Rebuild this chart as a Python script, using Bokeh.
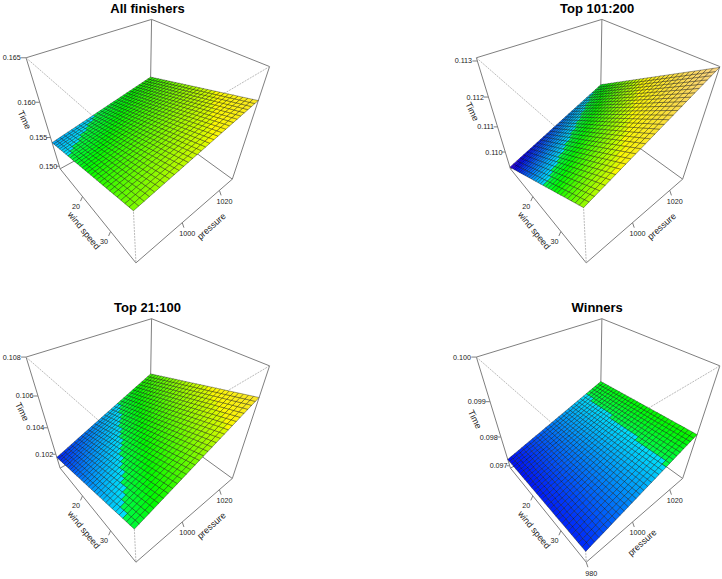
import colorsys
import numpy as np
from bokeh.core.properties import value
from bokeh.embed import file_html
from bokeh.models import Range1d
from bokeh.plotting import figure
from bokeh.resources import INLINE

# ---- data ----
panel_titles = ["All finishers", "Top 101:200", "Top 21:100", "Winners"]
wind_limits = [10.2, 37.4]
pressure_limits = [980.0, 1028.0]
wind_ticks = [20, 30]
time_limits = [[0.1495, 0.1650], [0.10923, 0.11308], [0.1008, 0.1080], [0.09691, 0.1000]]
time_ticks = [
    [0.150, 0.155, 0.160, 0.165],
    [0.110, 0.111, 0.112, 0.113],
    [0.102, 0.104, 0.106, 0.108],
    [0.097, 0.098, 0.099, 0.100],
]
time_tick_labels = [
    ["0.150", "0.155", "0.160", "0.165"],
    ["0.110", "0.111", "0.112", "0.113"],
    ["0.102", "0.104", "0.106", "0.108"],
    ["0.097", "0.098", "0.099", "0.100"],
]
pressure_ticks = [[1000, 1020], [1000, 1020], [1000, 1020], [980, 1000, 1020]]
# plane height at (low wind, low pressure), (low wind, high pressure),
# (high wind, low pressure), (high wind, high pressure)
corners_all_finishers = [0.15418, 0.15710, 0.15847, 0.16139]
corners_top_101_200 = [0.10931, 0.11081, 0.11156, 0.11306]
corners_top_21_100 = [0.10174, 0.10451, 0.10368, 0.10645]
corners_winners = [0.09724, 0.09826, 0.09736, 0.09838]
surface_corners = [corners_all_finishers, corners_top_101_200, corners_top_21_100, corners_winners]
wind_grid = np.linspace(wind_limits[0], wind_limits[1], 30)
pressure_grid = np.linspace(pressure_limits[0], pressure_limits[1], 30)

# ---- view ----
THETA, PHI, DIST, SX, SY, EXPAND = 0.8619, 0.709, 3.7811, 71.5, 71.85, 0.9952
ORIGINS = [(144.13, 127.05), (594.43, 127.05), (144.13, 426.35), (594.43, 426.35)]
TITLE_POS = [(147, 8), (596.7, 8), (147, 307.3), (596.7, 307.3)]
SHADE = 0.98
COLOR_IN = [0.0, 0.378, 0.68, 1.0]
COLOR_OUT = [0.0, 1 / 3, 2 / 3, 0.93]


def project(u, v, w, origin):
    u, v, w = np.asarray(u, float), np.asarray(v, float), np.asarray(w, float) * EXPAND
    x = u * np.cos(THETA) + v * np.sin(THETA)
    y = -u * np.sin(THETA) + v * np.cos(THETA)
    up = y * np.sin(PHI) + w * np.cos(PHI)
    depth = w * np.sin(PHI) - y * np.cos(PHI)
    f = 1 / (1 - depth / DIST)
    return origin[0] + SX * x * f, origin[1] - SY * up * f


def unit(val, lim):
    return 2 * (np.asarray(val, float) - lim[0]) / (lim[1] - lim[0]) - 1


def topo(t):
    t = float(np.interp(t, COLOR_IN, COLOR_OUT))
    if t < 1 / 3:
        h, s = 43 / 60 - 12 / 60 * (t * 3), 1.0
    elif t < 2 / 3:
        h, s = 23 / 60 - 12 / 60 * ((t - 1 / 3) * 3), 1.0
    else:
        f = (t - 2 / 3) * 3
        h, s = 10 / 60 - 4 / 60 * f, 1 - 0.7 * f
    r, g, b = colorsys.hsv_to_rgb(h, s, SHADE)
    return "#%02x%02x%02x" % (round(r * 255), round(g * 255), round(b * 255))


p = figure(width=722, height=579, output_backend="svg", toolbar_location=None,
           x_range=Range1d(0, 722), y_range=Range1d(579, 0), min_border=0,
           margin=0, outline_line_color=None)
p.axis.visible = False
p.grid.visible = False

FONT = value("Liberation Sans")
TEXT = "#222222"
EDGES_SOLID = [((-1, -1, 1), (-1, 1, 1)), ((-1, 1, 1), (1, 1, 1)), ((-1, -1, 1), (-1, -1, -1)),
               ((1, 1, 1), (1, 1, -1)), ((-1, 1, 1), (-1, 1, -1)), ((-1, -1, -1), (1, -1, -1)),
               ((1, -1, -1), (1, 1, -1)), ((-1, -1, -1), (-1, 1, -1)), ((-1, 1, -1), (1, 1, -1))]
EDGES_DOTTED = [((-1, -1, 1), (1, -1, 1)), ((1, 1, 1), (1, -1, 1)), ((1, -1, 1), (1, -1, -1))]

for i, title in enumerate(panel_titles):
    o = ORIGINS[i]
    zlim = time_limits[i]
    # box
    for edges, col, dash, lw in ((EDGES_SOLID, "#7f7f7f", "solid", 1.0), (EDGES_DOTTED, "#a8a8a8", "2 1", 0.8)):
        a = np.array([e[0] for e in edges], float)
        b = np.array([e[1] for e in edges], float)
        x0, y0 = project(a[:, 0], a[:, 1], a[:, 2], o)
        x1, y1 = project(b[:, 0], b[:, 1], b[:, 2], o)
        p.segment(x0, y0, x1, y1, line_color=col, line_width=lw, line_dash=dash)

    # surface
    c = surface_corners[i]
    W, P = np.meshgrid(wind_grid, pressure_grid, indexing="ij")
    a = (W - wind_limits[0]) / (wind_limits[1] - wind_limits[0])
    b = (P - pressure_limits[0]) / (pressure_limits[1] - pressure_limits[0])
    Z = c[0] * (1 - a) * (1 - b) + c[1] * (1 - a) * b + c[2] * a * (1 - b) + c[3] * a * b
    X, Y = project(unit(W, wind_limits), unit(P, pressure_limits), unit(Z, zlim), o)
    xs, ys, cols = [], [], []
    n = len(wind_grid) - 1
    for r in range(n):
        for s in range(n):
            xs.append([X[r, s], X[r + 1, s], X[r + 1, s + 1], X[r, s + 1]])
            ys.append([Y[r, s], Y[r + 1, s], Y[r + 1, s + 1], Y[r, s + 1]])
            m = Z[r:r + 2, s:s + 2].mean()
            cols.append(topo((m - zlim[0]) / (zlim[1] - zlim[0])))
    p.patches(xs, ys, fill_color=cols, line_color="#000000", line_width=0.55, line_alpha=0.65)

    # wind ticks
    ex, ey = project(unit(wind_ticks, wind_limits), np.full(len(wind_ticks), -1.0), np.full(len(wind_ticks), -1.0), o)
    p.segment(ex, ey, ex - 2, ey + 4.5, line_color="#7f7f7f", line_width=1)
    p.text(ex - 6.5, ey + 10, text=[str(t) for t in wind_ticks], text_font=FONT, text_font_size=value("7.2px"),
           text_align="center", text_baseline="middle", text_color=TEXT)
    # pressure ticks
    pt = pressure_ticks[i]
    ex, ey = project(np.full(len(pt), 1.0), unit(pt, pressure_limits), np.full(len(pt), -1.0), o)
    p.segment(ex, ey, ex + 1.7, ey + 5, line_color="#7f7f7f", line_width=1)
    p.text(ex + 5, ey + 11, text=[str(t) for t in pt], text_font=FONT, text_font_size=value("7.2px"),
           text_align="center", text_baseline="middle", text_color=TEXT)
    # time ticks
    tt = np.array(time_ticks[i])
    ex, ey = project(np.full(len(tt), -1.0), np.full(len(tt), -1.0), unit(tt, zlim), o)
    frac = (tt - zlim[0]) / (zlim[1] - zlim[0])
    p.segment(ex, ey, ex - (3 + 2 * frac), ey, line_color="#7f7f7f", line_width=1)
    p.text(ex - (2 + 3.3 * frac), ey, text=time_tick_labels[i], text_font=FONT, text_font_size=value("7.2px"),
           text_align="right", text_baseline="middle", text_color=TEXT)

    # axis titles, placed at the middle of each tick range
    mx, my = project([-1.0], [-1.0], [unit((tt[0] + tt[-1]) / 2, zlim)], o)
    p.text(mx - 21, my - 1, text=["Time"], angle=-64, angle_units="deg", text_font=FONT,
           text_font_size=value("9px"), text_align="center", text_baseline="middle", text_color=TEXT)
    mx, my = project([unit((wind_ticks[0] + wind_ticks[-1]) / 2, wind_limits)], [-1.0], [-1.0], o)
    p.text(mx - 12, my + 17.4, text=["wind speed"], angle=-51, angle_units="deg", text_font=FONT,
           text_font_size=value("9px"), text_align="center", text_baseline="middle", text_color=TEXT)
    mx, my = project([1.0], [unit((pt[0] + pt[-1]) / 2, pressure_limits)], [-1.0], o)
    p.text(mx + 9.6, my + 20.6, text=["pressure"], angle=42, angle_units="deg", text_font=FONT,
           text_font_size=value("9px"), text_align="center", text_baseline="middle", text_color=TEXT)

    p.text([TITLE_POS[i][0]], [TITLE_POS[i][1]], text=[title], text_font=FONT, text_font_style="bold",
           text_font_size=value("13px"), text_align="center", text_baseline="middle", text_color="#000000")

open("out.html", "w").write(file_html(p, INLINE))
